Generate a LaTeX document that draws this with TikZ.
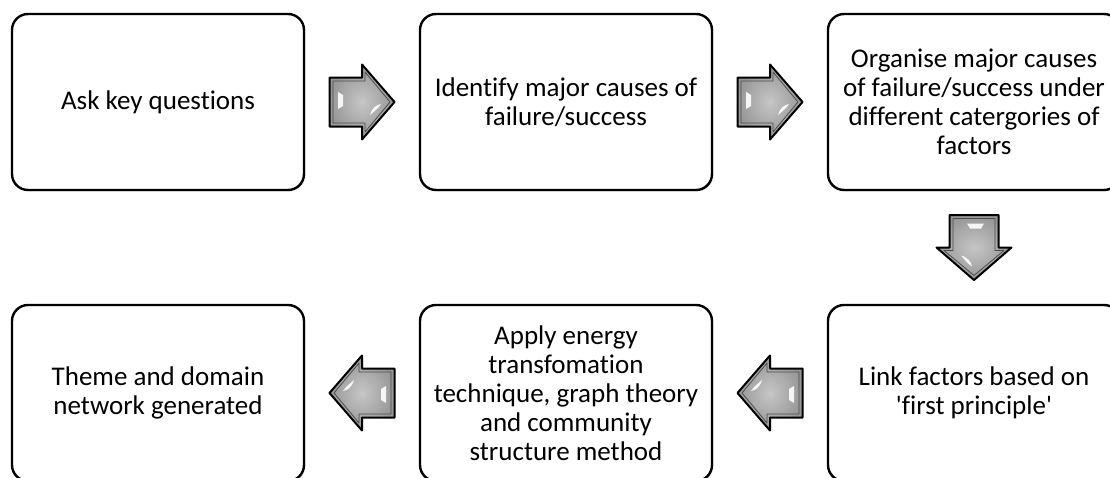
\documentclass[tikz,border=0pt]{standalone}
\usepackage{fontspec}
\setmainfont{Carlito}[Ligatures={NoCommon}]
\usetikzlibrary{shadows,calc}
\tikzset{
  stepbox/.style={draw=black, line width=2.4pt, rounded corners=16pt, fill=white,
    minimum width=292pt, minimum height=176pt, inner sep=0pt, align=center,
    font=\fontsize{27}{29}\selectfont,
    drop shadow={shadow xshift=1.5pt, shadow yshift=-1.5pt, opacity=0.18, fill=gray}},
  fatarrow/.pic={
    \path[draw=black, line width=2pt, line join=round, inner color=gray!45, outer color=gray!82]
      (-32.5,-24.5) -- (0,-24.5) -- (0,-37.5) -- (32.5,0) -- (0,37.5) -- (0,24.5) -- (-32.5,24.5) -- cycle;
    \path[draw=gray!60!black, line width=0.8pt, line join=round]
      (-29,-21) -- (3,-21) -- (3,-30) -- (28,0) -- (3,30) -- (3,21) -- (-29,21) -- cycle;
    \fill[white, opacity=0.9] (-24,-10) -- (-19,-7) -- (-19,4) -- (-24,7) -- cycle;
    \fill[white, opacity=0.9] (8,13) .. controls (10,6) and (14,3) .. (19,2) -- (16,6) .. controls (13,8) and (11,11) .. (8,13) -- cycle;
  }
}
\begin{document}
\begin{tikzpicture}[x=1pt, y=-1pt]
\useasboundingbox[clip] (0,0) rectangle (1110,477);
\fill[white] (0,0) rectangle (1110,477);
\node[stepbox] (b1) at (158,102) {Ask key questions};
\node[stepbox] (b2) at (566,102) {Identify major causes of\\failure/success};
\node[stepbox] (b3) at (974,102) {Organise major causes\\of failure/success under\\different catergories of\\factors};
\node[stepbox] (b4) at (158,393) {Theme and domain\\network generated};
\node[stepbox] (b5) at (566,393) {Apply energy\\transfomation\\technique, graph theory\\and community\\structure method};
\node[stepbox] (b6) at (974,393) {Link factors based on\\\textquotesingle first principle\textquotesingle};
\pic at ($(b1.east)!0.5!(b2.west)$) {fatarrow};
\pic at ($(b2.east)!0.5!(b3.west)$) {fatarrow};
\pic[rotate=-90] at ($(b3.south)!0.5!(b6.north)$) {fatarrow};
\pic[rotate=180] at ($(b6.west)!0.5!(b5.east)$) {fatarrow};
\pic[rotate=180] at ($(b5.west)!0.5!(b4.east)$) {fatarrow};
\end{tikzpicture}
\end{document}
